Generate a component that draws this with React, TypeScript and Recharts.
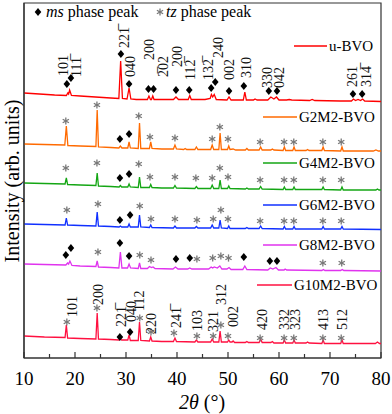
import { ComposedChart, Line, Scatter, XAxis, YAxis, ReferenceArea } from "recharts";

type Pt = [number, number];
type Mark = [number, number, "d" | "s"];
type Hkl = [string, number, number];

const OB = "\u0305"; // combining overline for negative indices

const seriesNames = ["u-BVO", "G2M2-BVO", "G4M2-BVO", "G6M2-BVO", "G8M2-BVO", "G10M2-BVO"];
const seriesColors = ["#ff0000", "#ff6a00", "#14a614", "#1030ff", "#e033ee", "#ff1040"];
// vertical stacking of the patterns (arb. units)
const seriesOffsets = [255, 205, 167, 128, 86, 13];

const xTicks = [10, 15, 20, 25, 30, 35, 40, 45, 50, 55, 60, 65, 70, 75, 80];

// 2θ, intensity
const uBVO: Pt[] = [
  [10, 10], [13, 9], [16, 8], [18.3, 7.5], [18.6, 10], [18.75, 9], [18.95, 13], [19.3, 7.5],
  [21, 7], [24, 6], [27, 5], [28.6, 4.5], [28.95, 42], [29.3, 4.5], [30.2, 4], [30.6, 15],
  [30.95, 4], [32, 3.5], [34.2, 3.5], [34.5, 7], [34.8, 3.5], [35.0, 3.5], [35.25, 7], [35.5, 3.5],
  [37, 3.5], [39.3, 3.5], [39.8, 6], [40.3, 3.5], [42.2, 3.5], [42.5, 7.5], [42.8, 3.5],
  [45.5, 3.5], [46.5, 4.5], [46.75, 8.5], [47.0, 6], [47.3, 8.5], [47.7, 3.5], [49.8, 3],
  [50.2, 6], [50.6, 3], [53.0, 3], [53.3, 11], [53.6, 3], [55, 3], [55.3, 4], [55.7, 3],
  [57.8, 3], [58.4, 6], [59.0, 4], [59.5, 6], [60.0, 3], [61.5, 3], [62, 3.5], [62.5, 3],
  [66, 2.5], [66.5, 3.5], [67, 2.5], [72, 2], [74.2, 2], [74.6, 4], [75.0, 2.5], [75.5, 3.5],
  [76.0, 2.5], [76.4, 4], [76.8, 2], [80, 1.5],
];

const g2m2: Pt[] = [
  [10, 9], [14, 8.5], [18.0, 8], [18.3, 27], [18.6, 7.5], [21, 7], [24.1, 6.5], [24.35, 43],
  [24.6, 6], [27, 5.5], [28.6, 5], [28.9, 7], [29.2, 5], [30.35, 5], [30.6, 11], [30.85, 5],
  [32.4, 4.5], [32.65, 30], [32.9, 4.5], [34.6, 4.5], [34.85, 11], [35.1, 4.5], [37, 4],
  [39.3, 4], [39.6, 8], [39.9, 4], [41.3, 3.5], [41.6, 4.5], [41.9, 3.5], [43.5, 3.5], [43.8, 6],
  [44.1, 3.5], [46.6, 3.5], [46.9, 8], [47.2, 3.5], [48.2, 3.5], [48.45, 20], [48.7, 3.5],
  [49.9, 3.5], [50.15, 7], [50.4, 3.5], [51.0, 4], [51.5, 3], [53.4, 3], [53.7, 4.5], [54, 3],
  [56.1, 3], [56.4, 6], [56.7, 3], [58.4, 3], [58.7, 4], [59.0, 3], [60.8, 2.5], [61.05, 6],
  [61.3, 2.5], [62.7, 2.5], [62.95, 6], [63.2, 2.5], [65.3, 2.5], [65.6, 3.5], [65.9, 2.5],
  [68.4, 2.5], [68.65, 6], [68.9, 2.5], [72.1, 2], [72.35, 6], [72.6, 2], [78.5, 2], [79.0, 3],
  [79.5, 2], [80, 2],
];

const g4m2: Pt[] = [
  [10, 8], [14, 7.5], [18.05, 7], [18.3, 13], [18.55, 6.5], [21, 6], [24.1, 5.5], [24.35, 18],
  [24.6, 5], [27, 4.5], [28.65, 4], [28.9, 5.5], [29.15, 4], [30.35, 4], [30.6, 7], [30.85, 4],
  [32.4, 3.5], [32.65, 14], [32.9, 3.5], [34.6, 3.5], [34.85, 6.5], [35.1, 3.5], [37, 3],
  [39.3, 3], [39.6, 5.5], [39.9, 3], [43.5, 2.5], [43.8, 4.5], [44.1, 2.5], [46.6, 2.5],
  [46.9, 6], [47.2, 2.5], [48.2, 2.5], [48.45, 11], [48.7, 2.5], [49.9, 2.5], [50.15, 5],
  [50.4, 2.5], [53.4, 2], [53.7, 3], [54, 2], [56.1, 2], [56.4, 4.5], [56.7, 2], [60.8, 1.5],
  [61.05, 4], [61.3, 1.5], [62.7, 1.5], [62.95, 4], [63.2, 1.5], [68.4, 1.5], [68.65, 4],
  [68.9, 1.5], [72.1, 1], [72.35, 4], [72.6, 1], [79, 1], [79.3, 2], [79.6, 1], [80, 1],
];

const g6m2: Pt[] = [
  [10, 6], [14, 5.5], [18.05, 5], [18.3, 12], [18.55, 5], [21, 4.5], [24.1, 4], [24.35, 18],
  [24.6, 4], [27, 3.5], [28.65, 3], [28.9, 4], [29.15, 3], [30.35, 3], [30.6, 6], [30.85, 3],
  [32.4, 3], [32.65, 15], [32.9, 3], [34.6, 2.5], [34.85, 5], [35.1, 2.5], [39.3, 2], [39.6, 4],
  [39.9, 2], [43.5, 2], [43.8, 3.5], [44.1, 2], [46.6, 2], [46.9, 5], [47.2, 2], [48.2, 2],
  [48.45, 10], [48.7, 2], [49.9, 1.5], [50.15, 4], [50.4, 1.5], [53.4, 1.5], [53.7, 2.5],
  [54, 1.5], [56.1, 1.5], [56.4, 4], [56.7, 1.5], [60.8, 1], [61.05, 3.5], [61.3, 1],
  [62.7, 1], [62.95, 3.5], [63.2, 1], [68.4, 1], [68.65, 3.5], [68.9, 1], [72.1, 1],
  [72.35, 3.5], [72.6, 1], [80, 0.5],
];

const g8m2: Pt[] = [
  [10, 8], [14, 7.5], [18.2, 7], [18.55, 9], [18.75, 8], [19.0, 11], [19.4, 6.5], [21, 6],
  [24.1, 5.5], [24.35, 11], [24.6, 5], [27, 4.5], [28.6, 4], [28.9, 20], [29.2, 4], [30.3, 4],
  [30.6, 8], [30.9, 4], [32.4, 3.5], [32.65, 9], [32.9, 3.5], [34.2, 3.5], [34.6, 5.5],
  [35.0, 4.5], [35.3, 5], [35.7, 3.5], [39.2, 3], [39.7, 5], [40.2, 3], [42.1, 3], [42.5, 4],
  [42.9, 3], [46.2, 3], [46.7, 5], [47.0, 4], [47.3, 5], [47.9, 4], [48.4, 6], [48.8, 3],
  [49.8, 3], [50.2, 4.5], [50.6, 2.5], [52.9, 2.5], [53.3, 6], [53.7, 2.5], [57.8, 2],
  [58.3, 4], [58.8, 3], [59.4, 4.5], [59.9, 2], [61, 2], [61.2, 3], [61.5, 2], [68.4, 1.5],
  [68.7, 2.5], [69, 1.5], [72.1, 1.5], [72.4, 2.5], [72.7, 1.5], [80, 1],
];

const g10m2: Pt[] = [
  [10, 9], [14, 8], [18.05, 7.5], [18.3, 20], [18.55, 7], [21, 6.5], [24.1, 6], [24.35, 32],
  [24.6, 6], [27, 5.5], [28.65, 5], [28.9, 6.5], [29.15, 5], [30.35, 5], [30.6, 10],
  [30.85, 4.5], [32.4, 4.5], [32.65, 23], [32.9, 4.5], [34.6, 4], [34.85, 8], [35.1, 4],
  [37, 3.5], [39.3, 3.5], [39.6, 7], [39.9, 3.5], [43.5, 3], [43.8, 5], [44.1, 3], [46.6, 3],
  [46.9, 6], [47.2, 3], [48.2, 3], [48.45, 14], [48.7, 3], [49.9, 3], [50.15, 5], [50.4, 3],
  [50.8, 3], [51.0, 4], [51.3, 2.5], [53.4, 2.5], [53.7, 3.5], [54, 2.5], [56.1, 2.5],
  [56.4, 6], [56.7, 2.5], [58.4, 2.5], [58.7, 3.5], [59, 2], [60.8, 2], [61.05, 5], [61.3, 2],
  [62.7, 2], [62.95, 5], [63.2, 2], [65.3, 2], [65.6, 3], [65.9, 2], [68.4, 1.5], [68.65, 5],
  [68.9, 1.5], [72.1, 1.5], [72.35, 5], [72.6, 1.5], [78.9, 1.5], [79.3, 3], [79.7, 1.5],
  [80, 1.5],
];

// peak markers: 2θ, level, d = ms phase (diamond), s = tz phase (asterisk)
const uBVOMarks: Mark[] = [
  [18.4, 19, "d"], [19.2, 25, "d"], [29.0, 49, "d"], [30.6, 19, "d"], [34.4, 14, "d"],
  [35.4, 14, "d"], [39.8, 13, "d"], [42.4, 13, "d"], [46.7, 15, "d"], [47.5, 21, "d"],
  [50.2, 12, "d"], [53.1, 17, "d"], [58.0, 12, "d"], [59.6, 12, "d"], [74.5, 9, "d"],
  [76.3, 9, "d"],
];
const g2m2Marks: Mark[] = [
  [18.2, 32, "s"], [24.3, 48, "s"], [28.8, 14, "d"], [30.6, 19, "d"], [32.5, 37, "s"],
  [34.7, 16, "s"], [39.6, 15, "s"], [46.9, 14, "s"], [48.4, 26, "s"], [50.0, 14, "s"],
  [56.3, 11, "s"], [61.0, 11, "s"], [62.9, 11, "s"], [68.6, 11, "s"], [72.2, 11, "s"],
];
const g4m2Marks: Mark[] = [
  [18.2, 23, "s"], [24.3, 28, "s"], [28.8, 13, "d"], [30.6, 17, "d"], [32.5, 27, "s"],
  [34.7, 14, "s"], [39.6, 14, "s"], [43.7, 13, "s"], [46.9, 13, "s"], [48.4, 23, "s"],
  [50.0, 14, "s"], [56.3, 11, "s"], [61.0, 11, "s"], [62.9, 11, "s"], [68.6, 11, "s"],
  [72.2, 11, "s"],
];
const g6m2Marks: Mark[] = [
  [18.4, 20, "s"], [24.5, 26, "s"], [28.8, 10, "d"], [30.8, 15, "d"], [32.7, 24, "s"],
  [34.9, 11, "s"], [39.6, 11, "s"], [43.9, 10, "s"], [47.1, 11, "s"], [48.6, 20, "s"],
  [50.0, 11, "s"], [56.3, 9, "s"], [61.0, 9, "s"], [62.9, 9, "s"], [68.6, 9, "s"],
  [72.2, 9, "s"],
];
const g8m2Marks: Mark[] = [
  [18.2, 17, "d"], [19.2, 24, "d"], [24.5, 20, "s"], [28.8, 29, "d"], [30.6, 16, "d"],
  [32.7, 17, "s"], [34.9, 12, "s"], [39.8, 13, "d"], [42.5, 14, "d"], [43.9, 13, "s"],
  [47.0, 14, "s"], [48.6, 16, "s"], [50.1, 14, "s"], [53.1, 15, "d"], [58.2, 11, "d"],
  [59.6, 11, "d"], [68.6, 9, "s"], [72.3, 9, "s"],
];
const g10m2Marks: Mark[] = [
  [18.4, 23, "s"], [24.3, 37, "s"], [28.8, 8, "d"], [30.8, 13, "d"], [32.7, 27, "s"],
  [34.9, 13, "s"], [39.4, 12, "s"], [43.9, 9, "s"], [47.1, 9, "s"], [48.6, 20, "s"],
  [50.0, 9, "s"], [56.3, 7, "s"], [61.0, 7, "s"], [62.9, 7, "s"], [68.6, 7, "s"],
  [72.2, 7, "s"],
];

// Miller indices: text, 2θ, level of the label's lower end
const uBVOHkl: Hkl[] = [
  ["101", 17.6, 27], ["111" + OB, 20.2, 26], ["221" + OB, 29.6, 55], ["040", 30.8, 26],
  ["200", 34.5, 43], ["2" + OB + "02", 37.3, 26], ["200", 40.0, 36], ["112" + OB, 42.5, 23],
  ["132" + OB, 46.1, 23], ["240", 48.0, 45], ["002", 50.2, 23], ["310", 53.5, 25],
  ["330", 57.6, 15], ["042", 60.0, 15], ["261", 74.3, 16], ["314" + OB, 77.1, 16],
];
const g10m2Hkl: Hkl[] = [
  ["101", 19.4, 28], ["200", 24.5, 40], ["221" + OB, 29.0, 18], ["040", 31.0, 23],
  ["112", 32.5, 34], ["220", 34.9, 11], ["241" + OB, 39.8, 17], ["103", 43.9, 14],
  ["321", 47.1, 13], ["312", 48.6, 40], ["002", 51.0, 18], ["420", 56.7, 15],
  ["332", 61.0, 15], ["323", 63.1, 15], ["413", 68.6, 15], ["512", 72.4, 15],
];

const patterns = [uBVO, g2m2, g4m2, g6m2, g8m2, g10m2];
const marks = [uBVOMarks, g2m2Marks, g4m2Marks, g6m2Marks, g8m2Marks, g10m2Marks];

const lineData = patterns.map((pat, i) => pat.map(([x, v]) => ({ x, y: v + seriesOffsets[i] })));
const markData = marks.flatMap((list, i) =>
  list.map(([x, v, kind]) => ({ x, y: v + seriesOffsets[i], kind })),
);
const hklData = [
  ...uBVOHkl.map(([text, x, v]) => ({ x, y: v + seriesOffsets[0], text })),
  ...g10m2Hkl.map(([text, x, v]) => ({ x, y: v + seriesOffsets[5], text })),
];

const FONT = '"Liberation Serif", "Times New Roman", serif';
const AXIS = "#333";

function Diamond({ x, y }: { x: number; y: number }) {
  return <polygon points={`${x},${y - 4} ${x + 3.3},${y} ${x},${y + 4} ${x - 3.3},${y}`} fill="#000" />;
}

function Star({ x, y }: { x: number; y: number }) {
  const r = 3.6;
  return (
    <g stroke="#777" strokeWidth={1.3}>
      {[90, 30, -30].map((a) => {
        const dx = r * Math.cos((a * Math.PI) / 180);
        const dy = r * Math.sin((a * Math.PI) / 180);
        return <line key={a} x1={x - dx} y1={y - dy} x2={x + dx} y2={y + dy} />;
      })}
    </g>
  );
}

function PeakMark(props: any) {
  const { cx, cy, payload } = props;
  if (cx == null || cy == null) return <g />;
  return payload.kind === "d" ? <Diamond x={cx} y={cy} /> : <Star x={cx} y={cy} />;
}

function HklLabel(props: any) {
  const { cx, cy, payload } = props;
  if (cx == null || cy == null) return <g />;
  return (
    <text
      transform={`translate(${cx + 5},${cy}) rotate(-90)`}
      fontSize={14}
      fontFamily={FONT}
      fill="#111"
    >
      {payload.text}
    </text>
  );
}

function XTick(props: any) {
  const { x, y, payload } = props;
  const major = payload.value % 10 === 0;
  return (
    <g>
      <line x1={x} x2={x} y1={y} y2={y - (major ? 6 : 4)} stroke={AXIS} strokeWidth={1.2} />
      {major && (
        <text x={x} y={y + 27} textAnchor="middle" fontSize={19} fontFamily={FONT} fill="#000">
          {payload.value}
        </text>
      )}
    </g>
  );
}

// where each series name sits next to its pattern
const legendRows = [
  { y: 46, x1: 294, x2: 327 },
  { y: 117, x1: 263, x2: 297 },
  { y: 163, x1: 263, x2: 297 },
  { y: 205, x1: 263, x2: 297 },
  { y: 245, x1: 263, x2: 297 },
  { y: 285, x1: 257, x2: 292 },
];

export default function App() {
  return (
    <div style={{ position: "relative", width: 392, height: 414 }}>
      <style>{"body{margin:0}"}</style>
      <ComposedChart width={392} height={414} margin={{ top: 3, right: 11, left: 0, bottom: 0 }}>
        <XAxis
          type="number"
          dataKey="x"
          domain={[10, 80]}
          ticks={xTicks}
          interval={0}
          allowDataOverflow
          height={56}
          tickLine={false}
          tickSize={0}
          tickMargin={0}
          axisLine={{ stroke: AXIS, strokeWidth: 1.2 }}
          tick={(p: any) => <XTick {...p} />}
        />
        <YAxis
          type="number"
          domain={[0, 355]}
          allowDataOverflow
          width={24}
          tick={false}
          tickLine={false}
          axisLine={{ stroke: AXIS, strokeWidth: 1.2 }}
        />
        <ReferenceArea x1={10} x2={80} y1={0} y2={355} fill="none" stroke={AXIS} strokeWidth={1.2} />
        {lineData.map((d, i) => (
          <Line
            key={seriesNames[i]}
            data={d}
            dataKey="y"
            name={seriesNames[i]}
            type="linear"
            stroke={seriesColors[i]}
            strokeWidth={1.3}
            dot={false}
            activeDot={false}
            isAnimationActive={false}
          />
        ))}
        <Scatter data={markData} dataKey="y" shape={(p: any) => <PeakMark {...p} />} isAnimationActive={false} />
        <Scatter data={hklData} dataKey="y" shape={(p: any) => <HklLabel {...p} />} isAnimationActive={false} />
      </ComposedChart>
      <svg
        width={392}
        height={414}
        style={{ position: "absolute", left: 0, top: 0, pointerEvents: "none" }}
        fontFamily={FONT}
      >
        <Diamond x={38} y={12} />
        <text x={46} y={17} fontSize={16}>
          <tspan fontStyle="italic">ms</tspan> phase peak
        </text>
        <Star x={160} y={12} />
        <text x={166} y={17} fontSize={16}>
          <tspan fontStyle="italic">tz</tspan> phase peak
        </text>
        {legendRows.map((r, i) => (
          <g key={seriesNames[i]}>
            <line x1={r.x1} x2={r.x2} y1={r.y} y2={r.y} stroke={seriesColors[i]} strokeWidth={1.5} />
            <text x={r.x2 + 2} y={r.y + 5} fontSize={15}>
              {seriesNames[i]}
            </text>
          </g>
        ))}
        <text transform="translate(19,181) rotate(-90)" textAnchor="middle" fontSize={20}>
          Intensity (arb. units)
        </text>
        <text x={202} y={409} textAnchor="middle" fontSize={20}>
          <tspan fontStyle="italic">2θ</tspan> (°)
        </text>
      </svg>
    </div>
  );
}
